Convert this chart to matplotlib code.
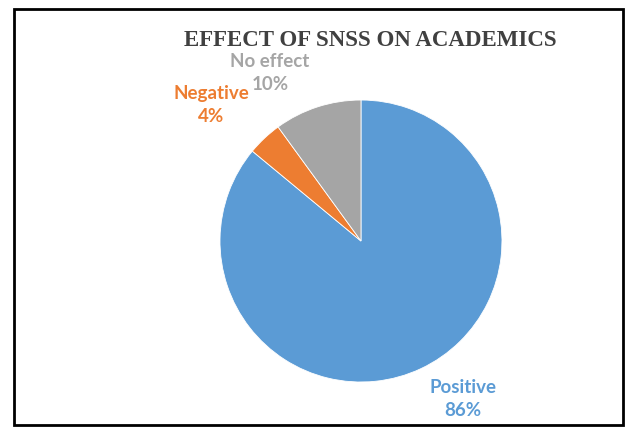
import matplotlib
matplotlib.use("Agg")
import matplotlib.pyplot as plt
from matplotlib.patches import Rectangle

labels = ["Positive", "Negative", "No effect"]
shares = [86, 4, 10]
colors = ["#5B9BD5", "#ED7D31", "#A5A5A5"]
# label anchor positions, in units of the pie radius
label_pos = [(0.72, -1.12), (-1.06, 0.965), (-0.645, 1.19)]

fig = plt.figure(figsize=(6.26, 4.30), dpi=100)
fig.patch.set_facecolor("white")

# frame around the whole chart
fig.patches.append(Rectangle((0.022, 0.012), 0.973, 0.968, transform=fig.transFigure,
                             fill=False, edgecolor="black", linewidth=2))

ax = fig.add_axes([0.3514, 0.1116, 0.4505, 0.6558])
wedges, _ = ax.pie(shares, colors=colors, startangle=90, counterclock=False,
                   radius=1, wedgeprops=dict(linewidth=0.6, edgecolor="white"))
ax.set_xlim(-1, 1)
ax.set_ylim(-1, 1)
ax.set_aspect("equal")
ax.axis("off")

for lab, val, col, (x, y) in zip(labels, shares, colors, label_pos):
    ax.text(x, y, f"{lab}\n{val}%", color=col, ha="center", va="center",
            fontsize=13.5, fontweight="bold", family="Lato", linespacing=1.45,
            clip_on=False)

fig.text(0.591, 0.905, "EFFECT OF SNSS ON ACADEMICS", ha="center", va="center",
         fontsize=16.5, fontweight="bold", family="Liberation Serif", color="#404040")

fig.savefig("out.png", dpi=100)
